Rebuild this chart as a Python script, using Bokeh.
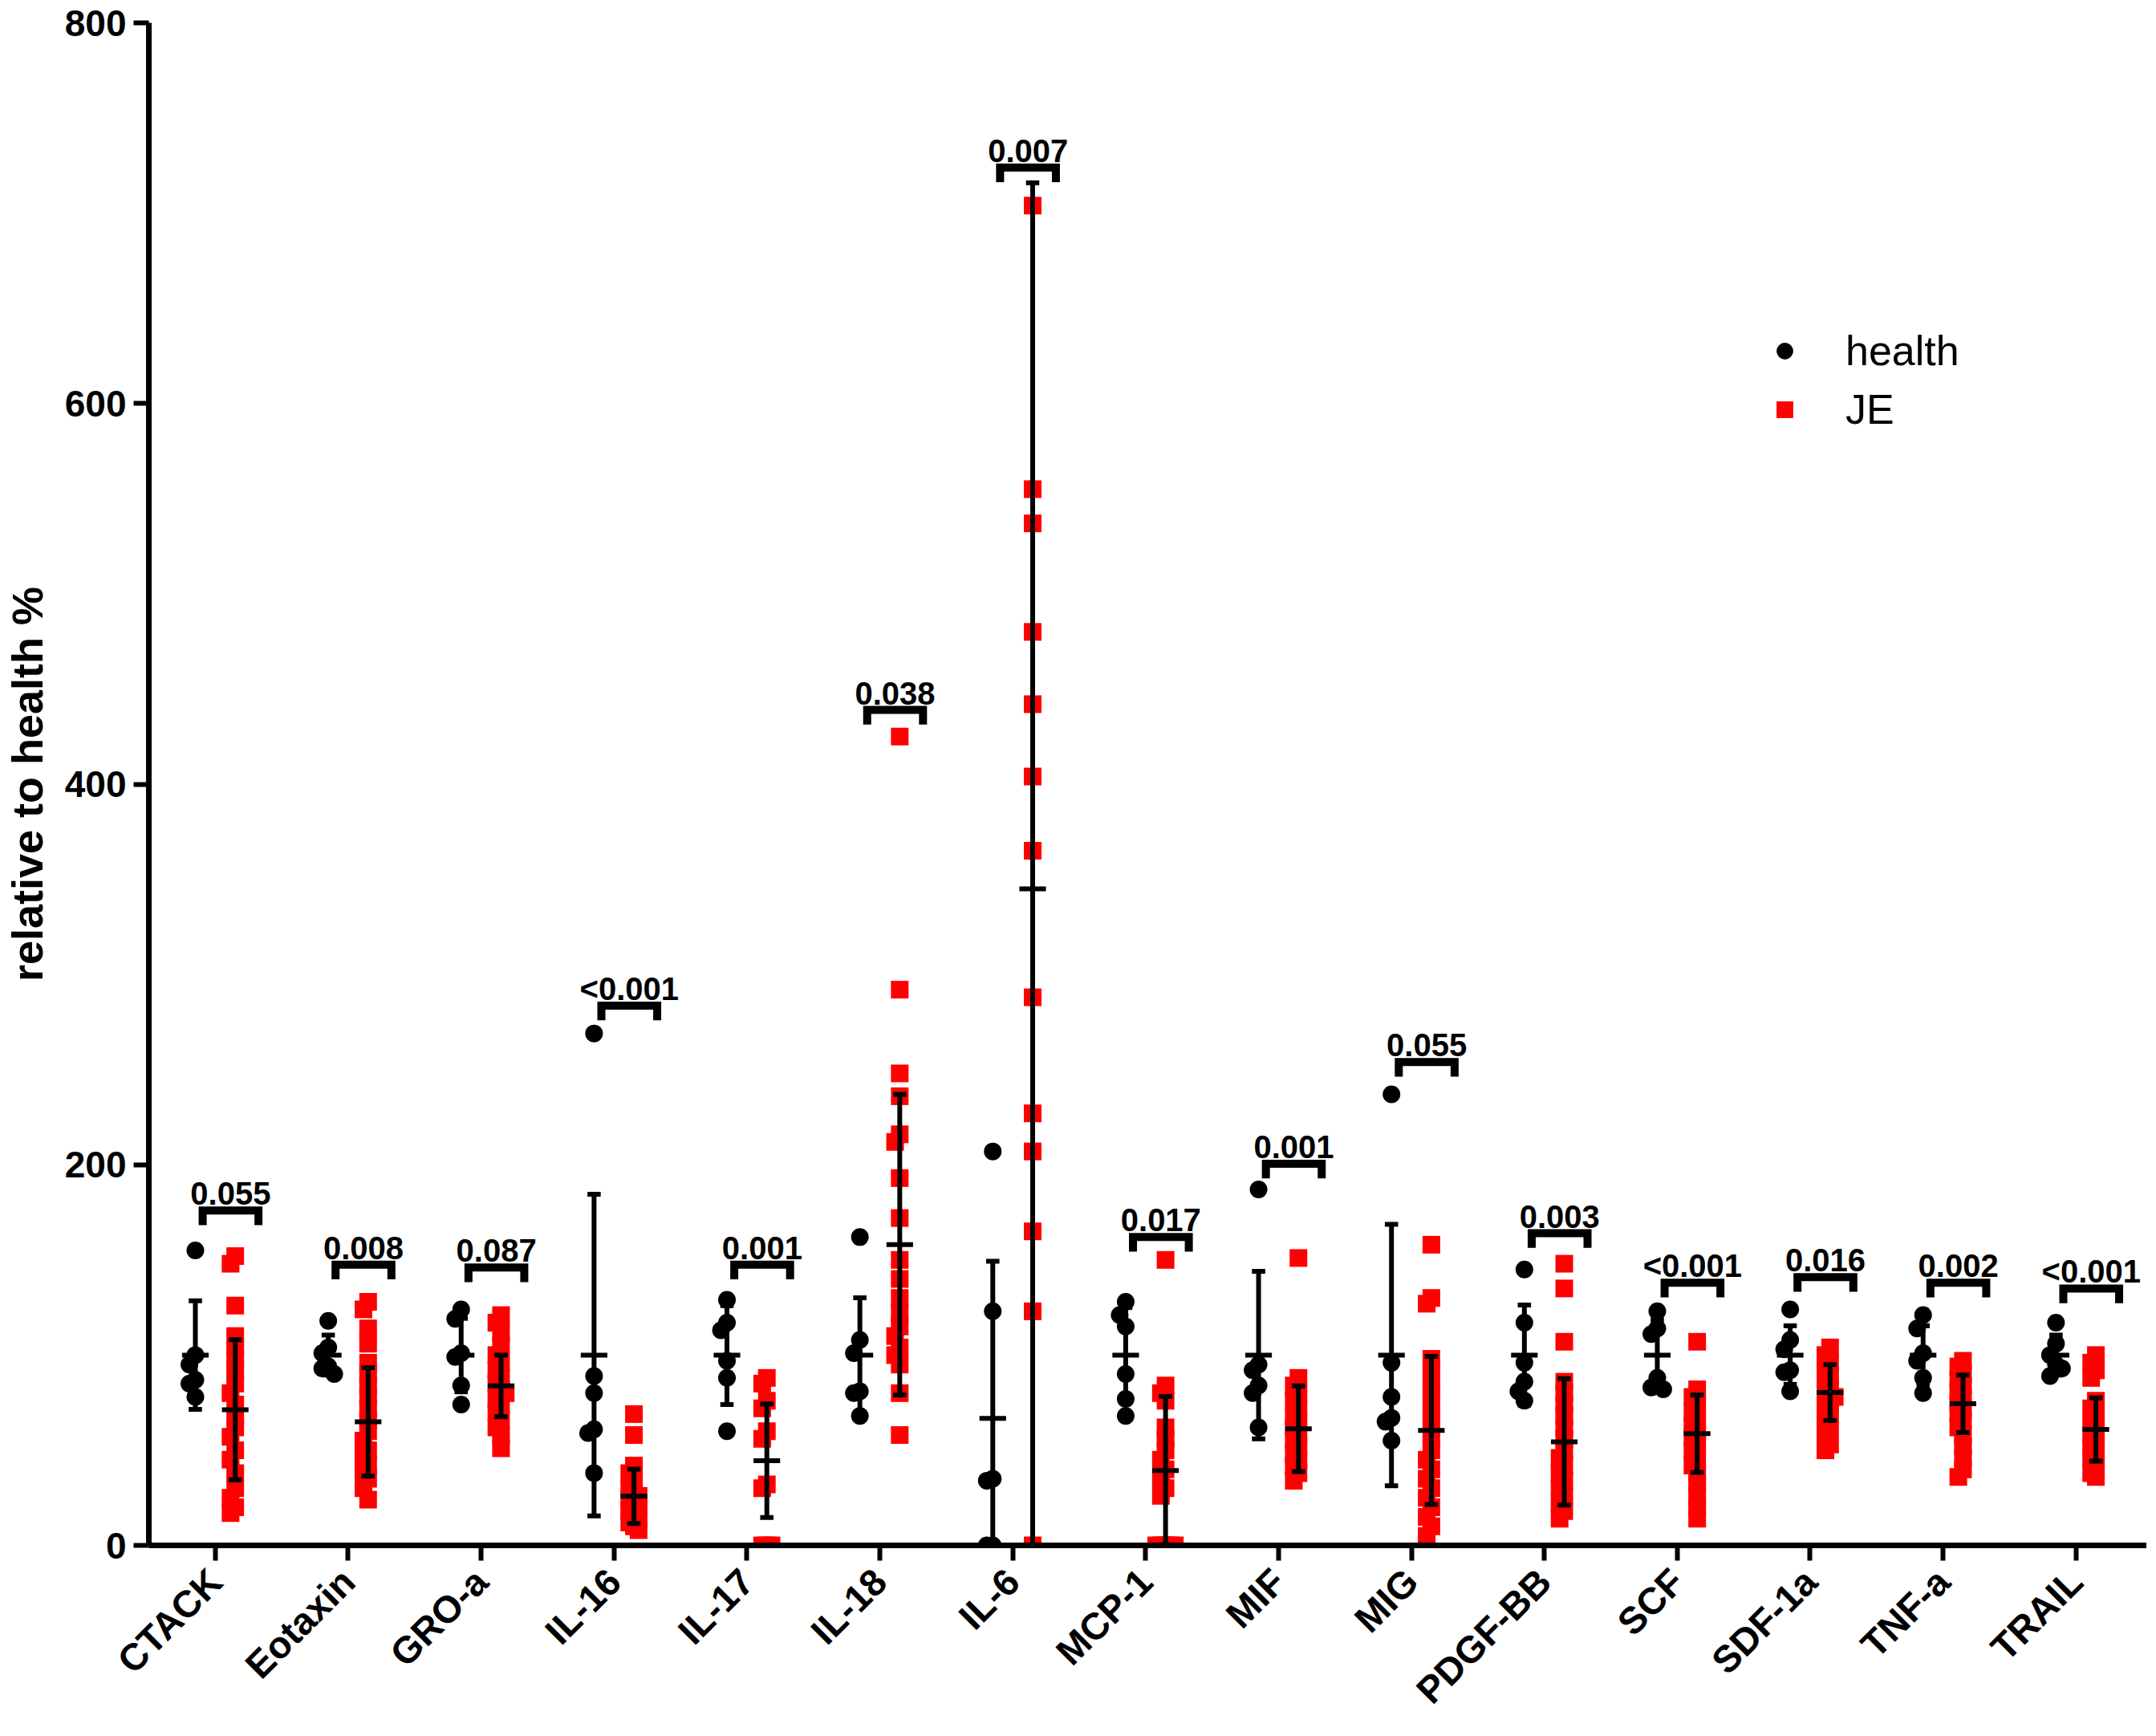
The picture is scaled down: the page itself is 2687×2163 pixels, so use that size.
import numpy as np
from bokeh.plotting import figure
from bokeh.models import FixedTicker, Range1d, Legend, LegendItem
from bokeh.embed import file_html
from bokeh.resources import INLINE
from bokeh.core.properties import value

# ---------------- data ----------------
categories = ["CTACK", "Eotaxin", "GRO-a", "IL-16", "IL-17", "IL-18", "IL-6", "MCP-1",
              "MIF", "MIG", "PDGF-BB", "SCF", "SDF-1a", "TNF-a", "TRAIL"]

health_values = [
    [155, 100, 95, 87, 85, 78],      # CTACK
    [118, 104, 101, 94, 93, 90],     # Eotaxin
    [124, 119, 101, 99, 84, 74],     # GRO-a
    [269, 89, 80, 61, 59, 38],       # IL-16
    [129, 117, 113, 97, 88, 60],     # IL-17
    [162, 108, 101, 81, 80, 68],     # IL-18
    [207, 123, 35, 34, 0, 0],        # IL-6
    [128, 121, 115, 90, 77, 68],     # MCP-1
    [187, 95, 92, 84, 80, 62],       # MIF
    [237, 96, 78, 67, 65, 55],       # MIG
    [145, 117, 96, 86, 81, 76],      # PDGF-BB
    [123, 114, 111, 88, 83, 82],     # SCF
    [124, 108, 103, 92, 91, 81],     # SDF-1a
    [121, 114, 101, 97, 88, 80],     # TNF-a
    [117, 106, 100, 95, 93, 89],     # TRAIL
]

je_values = [
    [152, 148, 126, 110, 104, 98, 92, 85, 80, 74, 68, 62, 57, 50, 45, 38, 30, 25, 20, 17],
    [128, 124, 114, 106, 96, 90, 84, 78, 72, 66, 60, 55, 50, 46, 42, 38, 35, 30, 24],
    [121, 117, 112, 105, 100, 96, 92, 88, 85, 82, 80, 77, 74, 70, 66, 62, 58, 51],
    [69, 58, 42, 38, 34, 30, 28, 26, 24, 22, 20, 18, 16, 14, 12, 10, 8],
    [88, 85, 76, 72, 60, 56, 32, 30, 0, 0, 0],
    [425, 292, 248, 236, 216, 212, 193, 172, 150, 140, 130, 122, 115, 110, 104, 100, 95, 80, 58],
    [704, 555, 537, 480, 442, 404, 365, 288, 227, 207, 165, 123, 0],
    [150, 84, 80, 76, 62, 56, 50, 45, 40, 35, 30, 26, 0, 0, 0, 0, 0, 0],
    [151, 88, 84, 80, 76, 72, 68, 65, 62, 58, 55, 52, 48, 45, 42, 38, 34],
    [158, 130, 127, 98, 92, 86, 80, 74, 68, 62, 56, 50, 45, 40, 35, 30, 25, 20, 15, 10, 5],
    [148, 135, 107, 86, 80, 74, 68, 62, 56, 50, 46, 42, 38, 34, 30, 26, 22, 18, 14],
    [107, 82, 78, 74, 70, 66, 63, 60, 57, 54, 50, 46, 42, 38, 32, 26, 20, 14],
    [104, 100, 96, 92, 89, 86, 83, 80, 78, 75, 72, 69, 66, 62, 58, 53, 50],
    [97, 94, 90, 87, 84, 81, 78, 75, 72, 69, 66, 62, 58, 52, 46, 40, 36],
    [100, 96, 92, 88, 76, 72, 68, 64, 61, 58, 55, 52, 49, 46, 42, 38, 36],
]

health_mean = [100, 100, 100, 100, 100, 100, 66.7, 100, 100, 100, 100, 100, 100, 100, 100]
health_sd = [28.5, 10.5, 19.3, 84.5, 26.0, 30.1, 82.6, 25.0, 44.0, 68.7, 26.3, 18.5, 15.4, 15.4, 10.5]
je_mean = [71.3, 64.9, 83.8, 25.8, 44.5, 158.0, 345.0, 39.3, 61.3, 60.4, 54.4, 58.7, 80.3, 74.4, 60.9]
je_sd = [36.8, 28.5, 16.2, 14.3, 29.8, 79.0, 371.0, 39.0, 22.5, 38.9, 33.2, 20.3, 14.7, 15.1, 16.6]

p_values = ["0.055", "0.008", "0.087", "<0.001", "0.001", "0.038", "0.007", "0.017",
            "0.001", "0.055", "0.003", "<0.001", "0.016", "0.002", "<0.001"]
bracket_y = [176, 147.5, 146, 283.6, 147.5, 439, 724, 162, 200.5, 254, 164, 138, 141, 138, 135]

y_ticks = [0, 200, 400, 600, 800]

# ---------------- styling constants ----------------
FONT = "Liberation Sans"
H_OFF, J_OFF = -0.15, 0.15
BLACK, RED = "#000000", "#ff0000"


def swarm(vals, step, min_dy):
    """deterministic side-by-side placement for overlapping points"""
    placed = []
    res = [0.0] * len(vals)
    order = sorted(range(len(vals)), key=lambda k: -vals[k])
    for k in order:
        v = vals[k]
        chosen = 0
        for c in (0, -1, 1, -2, 2):
            if all(not (pc == c and abs(v - pv) < min_dy) for pv, pc in placed):
                chosen = c
                break
        placed.append((v, chosen))
        res[k] = chosen * step
    return res


hx, hy, jx, jy = [], [], [], []
for i in range(len(categories)):
    offs = swarm(health_values[i], 0.045, 7.5)
    for v, o in zip(health_values[i], offs):
        hx.append(i + H_OFF + o)
        hy.append(v)
    offs = swarm(je_values[i], 0.035, 6.0)
    for v, o in zip(je_values[i], offs):
        jx.append(i + J_OFF + o)
        jy.append(v)

p = figure(width=2675, height=2155,
           x_range=Range1d(-0.5, 14.533), y_range=Range1d(0, 800),
           output_backend="svg", toolbar_location=None,
           min_border_left=172, min_border_right=0,
           min_border_top=28, min_border_bottom=230)
p.xgrid.visible = False
p.ygrid.visible = False
p.outline_line_color = None
p.background_fill_color = "white"
p.border_fill_color = "white"

for ax in (p.xaxis[0], p.yaxis[0]):
    ax.axis_line_width = 7
    ax.axis_line_color = BLACK
    ax.major_tick_line_width = 6
    ax.major_tick_line_color = BLACK
    ax.major_tick_out = 19
    ax.major_tick_in = 0
    ax.minor_tick_line_color = None
    ax.major_label_text_font = FONT
    ax.major_label_text_font_size = "46px"
    ax.major_label_text_font_style = "bold"
    ax.major_label_text_color = BLACK

p.xaxis.ticker = FixedTicker(ticks=list(range(len(categories))))
p.xaxis.major_label_overrides = {i: c for i, c in enumerate(categories)}
p.xaxis.major_label_orientation = np.pi / 4
p.xaxis.major_label_text_font_size = "47px"
p.xaxis.major_label_standoff = 18

p.yaxis.ticker = FixedTicker(ticks=y_ticks)
p.yaxis.major_label_standoff = 9
p.yaxis.axis_label = "relative to health %"
p.yaxis.axis_label_text_font = FONT
p.yaxis.axis_label_text_font_size = "54px"
p.yaxis.axis_label_text_font_style = "bold"
p.yaxis.axis_label_text_color = BLACK
p.yaxis.axis_label_standoff = 14

# points
r_h = p.scatter(hx, hy, marker="circle", size=22, fill_color=BLACK, line_color=None)
r_j = p.scatter(jx, jy, marker="square", size=22, fill_color=RED, line_color=None)


def error_bars(offset, means, sds):
    xs = [i + offset for i in range(len(means))]
    lo = [max(m - s, 0) for m, s in zip(means, sds)]
    hi = [m + s for m, s in zip(means, sds)]
    p.segment(x0=xs, y0=lo, x1=xs, y1=hi, line_width=6, line_color=BLACK, line_cap="butt")
    p.segment(x0=[x - 0.1 for x in xs], y0=means, x1=[x + 0.1 for x in xs], y1=means,
              line_width=6, line_color=BLACK, line_cap="butt")
    p.segment(x0=[x - 0.05 for x in xs], y0=hi, x1=[x + 0.05 for x in xs], y1=hi,
              line_width=6, line_color=BLACK, line_cap="butt")
    p.segment(x0=[x - 0.05 for x in xs], y0=lo, x1=[x + 0.05 for x in xs], y1=lo,
              line_width=6, line_color=BLACK, line_cap="butt")


error_bars(H_OFF, health_mean, health_sd)
error_bars(J_OFF, je_mean, je_sd)

# significance brackets
BL, BR, LEG = -0.095, 0.325, 7.7
bxs = [[i + BL, i + BL, i + BR, i + BR] for i in range(len(categories))]
bys = [[y - LEG, y, y, y - LEG] for y in bracket_y]
p.multi_line(xs=bxs, ys=bys, line_width=10, line_color=BLACK, line_join="miter", line_cap="butt")
p.text(x=[i + (BL + BR) / 2 for i in range(len(categories))], y=bracket_y, text=p_values,
       text_font=value(FONT), text_font_size="40px", text_font_style="bold",
       text_color=BLACK, text_align="center", text_baseline="alphabetic", y_offset=-21)

legend = Legend(items=[LegendItem(label="health", renderers=[r_h]),
                       LegendItem(label="JE", renderers=[r_j])],
                location=(2013, 1385), orientation="vertical",
                glyph_width=52, glyph_height=52, label_height=52, spacing=13,
                label_standoff=50, padding=0, margin=0,
                label_text_font=FONT, label_text_font_size="52px",
                label_text_color=BLACK, border_line_color=None,
                background_fill_alpha=0)
p.add_layout(legend)

open("out.html", "w").write(file_html(p, INLINE))
